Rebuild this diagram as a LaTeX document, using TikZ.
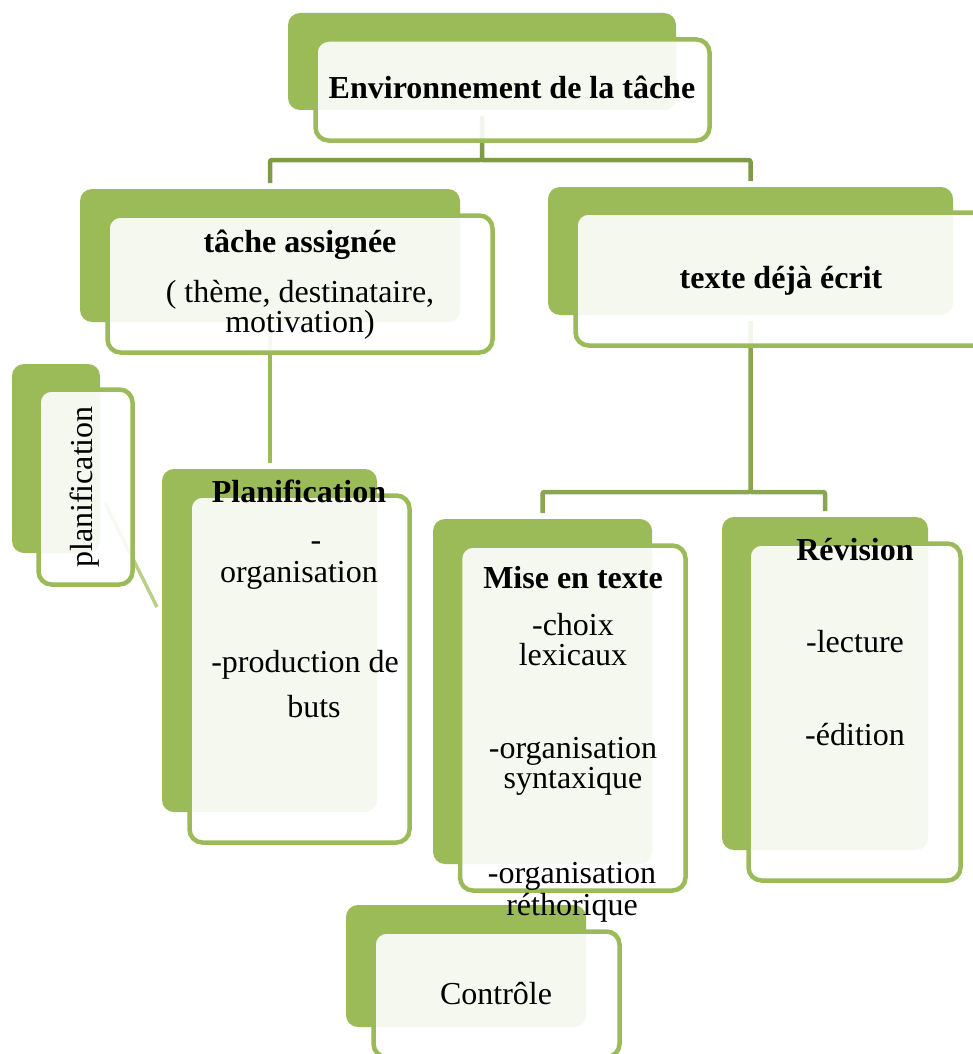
\documentclass[tikz,border=0pt]{standalone}
\usepackage{fontspec}
\setmainfont{Liberation Serif}
\usetikzlibrary{fit}
\definecolor{leaf}{RGB}{155,187,89}
\definecolor{stemA}{RGB}{127,155,72}
\definecolor{stemB}{RGB}{138,167,79}
\tikzset{
  backbox/.style={rectangle, rounded corners=12pt, fill=leaf, draw=none, inner sep=0pt, outer sep=0pt},
  frontbox/.style={rectangle, rounded corners=13pt, draw=leaf, line width=4.5pt, fill=white, fill opacity=0.9, inner sep=0pt, outer sep=0pt},
  link/.style={line width=4.5pt, rounded corners=2pt},
  txt/.style={anchor=base, inner sep=0pt, font=\fontsize{32}{30}\selectfont},
  ttl/.style={txt, font=\fontsize{32}{30}\selectfont\bfseries}
}
\begin{document}
\begin{tikzpicture}[x=1pt,y=-1pt]
\useasboundingbox (0,0) rectangle (973,1054);
\clip (0,0) rectangle (973,1054);

% solid green back panels
\node[backbox, fit={(288,13) (676,110)}] (envB) {};
\node[backbox, fit={(80,189) (460,322)}] (tacheB) {};
\node[backbox, fit={(548,187) (953,315)}] (texteB) {};
\node[backbox, fit={(12,364) (100,553)}] (sideB) {};
\node[backbox, fit={(162,469) (377,812)}] (planB) {};
\node[backbox, fit={(433,519) (652,864)}] (miseB) {};
\node[backbox, fit={(722,517) (928,850)}] (revB) {};
\node[backbox, fit={(346,905) (586,1027)}] (ctrlB) {};

% tree connectors
\coordinate (envbar) at (0,160);
\draw[link, stemA] ([yshift=-6pt]envB.south) -- (envB.south |- envbar) -| ([yshift=6pt]tacheB.north);
\draw[link, stemA] (envB.south |- envbar) -| ([yshift=6pt]texteB.north);
\draw[link, leaf] ([yshift=-6pt]tacheB.south) -- ([yshift=6pt]tacheB.south |- planB.north);
\coordinate (txtbar) at (0,492);
\draw[link, stemB] ([yshift=-6pt]texteB.south) -- (texteB.south |- txtbar) -| ([yshift=6pt]miseB.north);
\draw[link, stemB] (texteB.south |- txtbar) -| ([yshift=6pt]revB.north);
\coordinate (diagA) at (105,503);
\coordinate (diagB) at (157,607);
\draw[line width=3.5pt, leaf, opacity=0.7] (diagA) -- (diagB);

% outlined front panels
\node[frontbox, fit={(315.5,39.5) (709.5,140.5)}] (envF) {};
\node[frontbox, fit={(107.5,215.5) (492.5,352.5)}] (tacheF) {};
\node[frontbox, fit={(575.5,212.5) (986.5,345.5)}] (texteF) {};
\node[frontbox, fit={(38.5,389.5) (132.5,584.5)}] (sideF) {};
\node[frontbox, fit={(189.5,495.5) (409.5,842.5)}] (planF) {};
\node[frontbox, fit={(460,545.5) (685.5,890.5)}] (miseF) {};
\node[frontbox, fit={(748.5,543.5) (960.5,880.5)}] (revF) {};
\node[frontbox, fit={(373.5,931.5) (619.5,1057)}] (ctrlF) {};

% labels
\node[ttl] (tEnv) at (512,99) {Environnement de la tâche};

\node[ttl] (tTache) at (300,252) {tâche assignée};
\node[txt] (tTache1) at (300,302) {( thème, destinataire,};
\node[txt] (tTache2) at (300,332) {motivation)};

\node[ttl] (tTexte) at (781,288) {texte déjà écrit};

\node[txt, anchor=center, rotate=90] (tSide) at (85,487) {planification};

\node[ttl] (tPlan) at (299,502) {Planification};
\node[txt] (tPlan1) at (316,550) {-};
\node[txt] (tPlan2) at (299,582) {organisation};
\node[txt] (tPlan3) at (305,672) {-production de};
\node[txt] (tPlan4) at (314,717) {buts};

\node[ttl] (tMise) at (573,588) {Mise en texte};
\node[txt] (tMise1) at (573,635) {-choix};
\node[txt] (tMise2) at (573,665) {lexicaux};
\node[txt] (tMise3) at (573,758) {-organisation};
\node[txt] (tMise4) at (573,788) {syntaxique};
\node[txt] (tMise5) at (572,883) {-organisation};
\node[txt] (tMise6) at (572,915) {réthorique};

\node[ttl] (tRev) at (855,560) {Révision};
\node[txt] (tRev1) at (855,652) {-lecture};
\node[txt] (tRev2) at (855,745) {-édition};

\node[txt] (tCtrl) at (496,1004) {Contrôle};
\end{tikzpicture}
\end{document}
